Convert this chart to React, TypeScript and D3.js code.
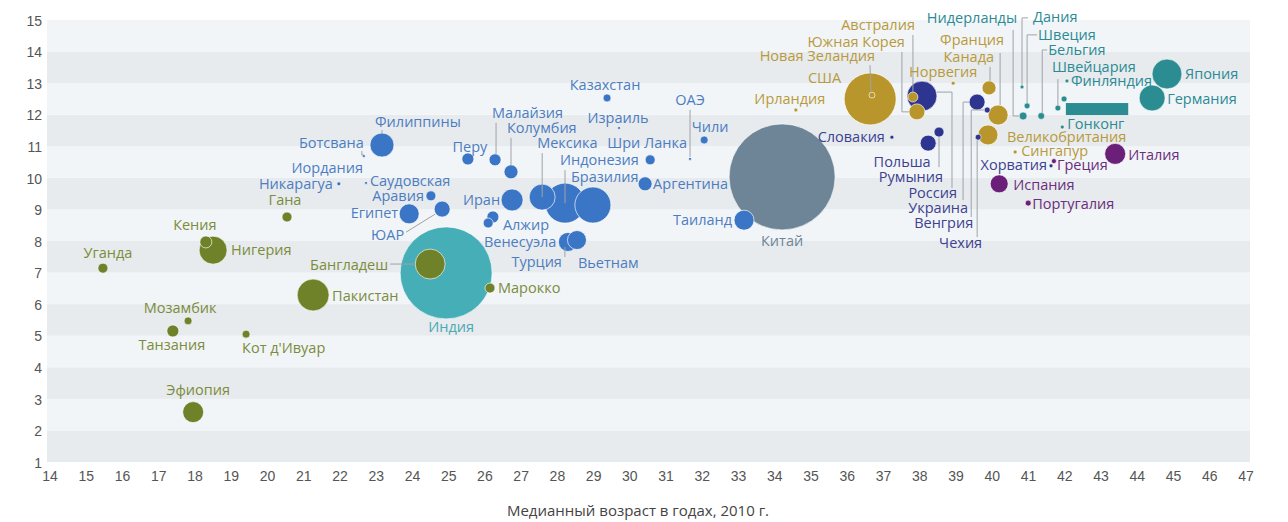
import React from "react";
import * as d3 from "d3";

// ---------- DATA ----------
const xTicks = d3.range(14, 48);
const yTicks = d3.range(1, 16);
const xTitle = "Медианный возраст в годах, 2010 г.";

const countries = [
  "Уганда","Кения","Нигерия","Гана","Мозамбик","Танзания","Кот д'Ивуар","Эфиопия","Пакистан","Бангладеш","Марокко",
  "Индия",
  "Ботсвана","Филиппины","Иордания","Никарагуа","Саудовская Аравия","Египет","ЮАР","Перу","Малайзия","Колумбия","Иран",
  "Мексика","Индонезия","Бразилия","Алжир","Венесуэла","Турция","Вьетнам","Казахстан","Израиль","Шри Ланка","Аргентина",
  "ОАЭ","Чили","Таиланд",
  "Китай",
  "Ирландия","США","Новая Зеландия","Австралия","Южная Корея","Норвегия","Канада","Франция","Великобритания","Сингапур",
  "Россия","Словакия","Польша","Румыния","Украина","Венгрия","Чехия","Хорватия",
  "Греция","Италия","Испания","Португалия",
  "Япония","Германия","Нидерланды","Швеция","Дания","Бельгия","Швейцария","Австрия","Финляндия","Гонконг",
];
const medianAge = [
  15.46,18.30,18.50,20.54,17.81,17.39,19.41,17.95,21.26,24.49,26.14,
  24.93,
  22.66,23.16,22.72,21.97,24.51,23.91,24.82,25.53,26.28,26.72,26.75,
  27.58,28.21,28.98,26.22,26.09,28.29,28.54,29.37,29.70,30.56,30.42,
  31.66,32.05,33.15,
  34.20,
  34.58,36.63,36.68,37.81,37.92,38.92,39.91,40.16,39.88,40.63,
  38.06,37.23,38.23,38.53,39.58,39.86,39.61,41.62,
  41.70,43.39,40.19,40.99,
  44.82,44.41,40.85,40.96,40.82,41.35,41.81,41.98,42.06,41.93,
];
const yValue = [
  7.14,7.97,7.71,8.76,5.47,5.15,5.05,2.58,6.29,7.27,6.51,
  6.99,
  10.69,11.04,9.84,9.81,9.43,8.86,9.01,10.60,10.57,10.19,9.30,
  9.39,9.20,9.14,8.76,8.57,7.97,8.03,12.53,11.58,10.57,9.81,
  10.60,11.20,8.66,
  10.03,
  12.15,12.50,12.62,12.56,12.09,13.00,12.85,11.99,11.36,10.82,
  12.59,11.29,11.10,11.45,12.40,12.15,11.29,10.38,
  10.53,10.76,9.81,9.20,
  13.29,12.53,11.96,12.28,12.88,11.96,12.21,12.50,13.07,11.61,
];
const population = [
  11.9,17.2,93.5,11.9,7.6,17.2,7.6,52.6,122,107,11.9,
  1009,
  1.1,68.7,1.1,1.9,11.9,47.7,30.5,17.2,17.2,23.4,57.7,
  80.6,191,155,17.2,11.9,43,43,7.6,1.1,11.9,23.4,
  1.1,7.6,47.7,
  1340,
  1.9,322,4.3,11.9,30.5,1.9,23.4,47.7,47.7,1.9,
  107,1.9,30.5,11.9,30.5,4.3,4.3,1.9,
  3.0,52.6,38.6,4.3,
  107,80.6,7.6,4.3,1.9,5.8,4.3,4.3,1.9,1.9,
];
const groupOf = [
  "af","af","af","af","af","af","af","af","af","af","af",
  "in",
  "as","as","as","as","as","as","as","as","as","as","as",
  "as","as","as","as","as","as","as","as","as","as","as",
  "as","as","as",
  "cn",
  "an","an","an","an","an","an","an","an","an","an",
  "ee","ee","ee","ee","ee","ee","ee","ee",
  "se","se","se","se",
  "ne","ne","ne","ne","ne","ne","ne","ne","ne","ne",
];
// teal block seen in the picture (data units)
const blockX = [42.03, 43.75];
const blockY = [11.99, 12.37];

// ---------- STYLE ----------
const fills: Record<string, string> = {
  af: "#6f8229", in: "#45aeb6", as: "#3b76c6", cn: "#6d8597",
  an: "#b8962c", ee: "#2e3590", se: "#6a2079", ne: "#2b8d92",
};
const labelFills: Record<string, string> = {
  af: "#7c8b3c", in: "#4aa9b3", as: "#4d7dc0", cn: "#6d8597",
  an: "#b89a3c", ee: "#3d4190", se: "#6b2d7c", ne: "#2b8a94",
};

// label layout: [country, text, dx, dy, anchor, leader points (px offsets)]
type Lab = [string, string, number, number, string, number[][]?];
const labels: Lab[] = [
  ["Уганда","Уганда",5,-10,"middle"],
  ["Кения","Кения",-11,-12,"middle"],
  ["Нигерия","Нигерия",18,5,"start"],
  ["Гана","Гана",-2,-12,"middle"],
  ["Мозамбик","Мозамбик",-8,-8,"middle"],
  ["Танзания","Танзания",-1,19,"middle"],
  ["Кот д'Ивуар","Кот д'Ивуар",-4,19,"start"],
  ["Эфиопия","Эфиопия",5,-17,"middle"],
  ["Пакистан","Пакистан",19,6,"start"],
  ["Бангладеш","Бангладеш",-42,6,"end",[[-40,0],[-15,0]]],
  ["Марокко","Марокко",8,5,"start"],
  ["Индия","Индия",5,59,"middle"],
  ["Ботсвана","Ботсвана",0,-8,"end",[[-2,-5],[-2,-1],[0,-1]]],
  ["Филиппины","Филиппины",36,-18,"middle",[[0,-15],[0,-12]]],
  ["Иордания","Иордания",-3,-10,"end"],
  ["Никарагуа","Никарагуа",-6,5,"end"],
  ["Саудовская Аравия","Саудовская",-61,-10,"start"],
  ["Саудовская Аравия","Аравия",-7,5,"end"],
  ["Египет","Египет",-11,4,"end"],
  ["ЮАР","ЮАР",-38,31,"end",[[-36,23],[-7,5]]],
  ["Перу","Перу",2,-7,"middle"],
  ["Малайзия","Малайзия",-3,-42,"start",[[1,-37],[1,-6]]],
  ["Колумбия","Колумбия",-4,-39,"start",[[0,-34],[0,-7]]],
  ["Мексика","Мексика",-5,-49,"start",[[0,-44],[0,0]]],
  ["Индонезия","Индонезия",-5,-38,"start",[[0,-33],[0,0]]],
  ["Бразилия","Бразилия",-22,-23,"start"],
  ["Иран","Иран",-12,5,"end"],
  ["Алжир","Алжир",10,13,"start"],
  ["Венесуэла","Венесуэла",32,24,"middle"],
  ["Турция","Турция",-6,25,"end",[[-3,5],[-3,15]]],
  ["Вьетнам","Вьетнам",1,28,"start"],
  ["Казахстан","Казахстан",-2,-8,"middle"],
  ["Израиль","Израиль",-1,-5,"middle"],
  ["Шри Ланка","Шри Ланка",-3,-12,"middle"],
  ["Аргентина","Аргентина",8,5,"start"],
  ["ОАЭ","ОАЭ",0,-54,"middle",[[0,-49],[0,-2]]],
  ["Чили","Чили",6,-8,"middle"],
  ["Таиланд","Таиланд",-12,5,"end"],
  ["Китай","Китай",0,69,"middle"],
  ["Ирландия","Ирландия",-6,-6,"middle"],
  ["США","США",-29,-16,"end"],
  ["Новая Зеландия","Новая Зеландия",3,-34,"end",[[-2,-30],[-1,-3]]],
  ["Австралия","Австралия",2,-67,"end",[[0,-62],[0,-5]]],
  ["Южная Корея","Южная Корея",-12,-65,"end",[[-15,-60],[-15,0],[-8,0]]],
  ["Норвегия","Норвегия",-10,-6,"middle"],
  ["Франция","Франция",6,-70,"end",[[2,-62],[2,-10]]],
  ["Канада","Канада",5,-26,"end",[[1,-21],[1,-7]]],
  ["Великобритания","Великобритания",19,7,"start"],
  ["Сингапур","Сингапур",6,4,"start"],
  ["Словакия","Словакия",-7,5,"end"],
  ["Польша","Польша",-26,24,"middle"],
  ["Румыния","Румыния",4,50,"end",[[0,5],[0,35]]],
  ["Россия","Россия",35,102,"end",[[15,-4],[30,-4],[30,92]]],
  ["Украина","Украина",-9,111,"end",[[-8,0],[-14,0],[-14,98]]],
  ["Венгрия","Венгрия",-14,118,"end",[[-3,0],[-16,0],[-16,107]]],
  ["Чехия","Чехия",4,111,"end",[[-1,3],[-1,100]]],
  ["Хорватия","Хорватия",-4,4,"end"],
  ["Греция","Греция",3,9,"start"],
  ["Италия","Италия",13,6,"start"],
  ["Испания","Испания",14,6,"start"],
  ["Португалия","Португалия",4,6,"start"],
  ["Япония","Япония",18,5,"start"],
  ["Германия","Германия",15,6,"start"],
  ["Нидерланды","Нидерланды",-6,-93,"end",[[-10,-86],[-10,0],[-4,0]]],
  ["Дания","Дания",11,-65,"start",[[6,-69],[0,-69],[0,-2]]],
  ["Швеция","Швеция",11,-66,"start",[[10,-71],[0,-71],[0,-3]]],
  ["Бельгия","Бельгия",7,-61,"start",[[6,-66],[1,-66],[1,-3]]],
  ["Швейцария","Швейцария",-6,-36,"start",[[0,-29],[0,-3]]],
  ["Финляндия","Финляндия",4,5,"start"],
  ["Гонконг","Гонконг",5,2,"start"],
];

const W = 1288, H = 522;
const labelFont = "'Open Sans', sans-serif";
const tickFont = "'Liberation Sans', Arial, sans-serif";

export default function App() {
  const x = d3.scaleLinear().domain([14, 47]).range([50, 1246]);
  const y = d3.scaleLinear().domain([1, 15]).range([462, 20]);
  const r = d3.scaleSqrt().domain([0, 1340]).range([0, 53]);

  const idx = d3.range(countries.length).sort((a, b) => population[b] - population[a]);
  const pos = (name: string) => {
    const i = countries.indexOf(name);
    return [x(medianAge[i]), y(yValue[i]), i] as [number, number, number];
  };
  const line = d3.line();

  return (
    <svg width={W} height={H} style={{ position: "absolute", left: 0, top: 0, background: "#fff" }}>
      <g>
        {d3.range(1, 15).map((v) => (
          <rect key={v} x={x(14) - 3} width={x(47) + 4 - (x(14) - 3)}
            y={y(v + 1)} height={y(v) - y(v + 1)}
            fill={(15 - (v + 1)) % 2 === 0 ? "#f2f5f8" : "#e7ebee"} />
        ))}
      </g>
      <g fontFamily={tickFont} fontSize={14} fill="#555">
        {yTicks.map((t) => (
          <text key={t} x={42} y={y(t) + 2} textAnchor="end" dominantBaseline="middle">{t}</text>
        ))}
        {xTicks.map((t) => (
          <text key={t} x={x(t)} y={477} textAnchor="middle" dominantBaseline="middle">{t}</text>
        ))}
      </g>
      <text x={638} y={516} textAnchor="middle" fontFamily={labelFont} fontSize={15} fill="#444">{xTitle}</text>

      <rect x={x(blockX[0])} y={y(blockY[1])} width={x(blockX[1]) - x(blockX[0])}
        height={y(blockY[0]) - y(blockY[1])} fill={fills.ne} />

      <g>
        {idx.map((i) => (
          <circle key={countries[i]} cx={x(medianAge[i])} cy={y(yValue[i])} r={r(population[i])}
            fill={fills[groupOf[i]]} stroke="#ffffff" strokeOpacity={0.65} strokeWidth={1} />
        ))}
      </g>
      <g fill="none" stroke="#9ea3a8" strokeWidth={1}>
        {labels.filter((l) => l[5]).map((l, k) => {
          const [cx, cy] = pos(l[0]);
          const pts = (l[5] as number[][]).map((p) => [cx + p[0], cy + p[1]] as [number, number]);
          return <path key={k} d={line(pts) || ""} />;
        })}
      </g>
      <g fontFamily={labelFont} fontSize={14.5}>
        {labels.map((l, k) => {
          const [cx, cy, i] = pos(l[0]);
          return (
            <text key={k} x={cx + l[2]} y={cy + l[3]} textAnchor={l[4]} fill={labelFills[groupOf[i]]}>{l[1]}</text>
          );
        })}
      </g>
    </svg>
  );
}
